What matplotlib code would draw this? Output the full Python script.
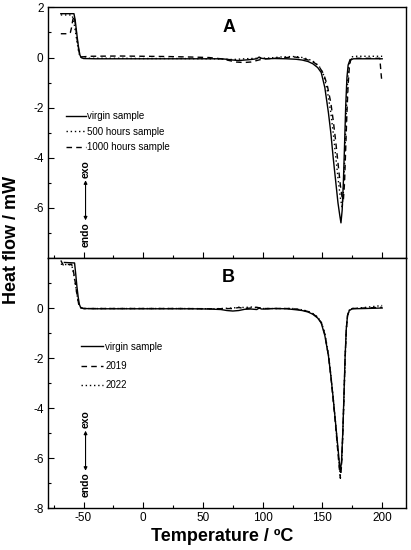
import matplotlib
matplotlib.use('Agg')
import matplotlib.pyplot as plt
from matplotlib.ticker import MultipleLocator, FixedLocator

plt.rcParams['font.family'] = ['Liberation Sans', 'DejaVu Sans']
plt.rcParams['axes.unicode_minus'] = False

# ---- panel A: aging in hours ----
t_a_virgin = [-69, -58, -57, -56, -55, -54, -53, -52, -50, -40, -20, 0, 20, 40, 55, 65, 70, 75, 80, 85,
              90, 95, 97, 99, 102, 110, 120, 128, 133, 138, 142, 146, 149, 152, 155, 157, 159, 161, 163,
              164.5, 165.5, 166.5, 167.5, 168.5, 169.5, 170.5, 171.5, 173, 176, 185, 200]
y_a_virgin = [1.75, 1.75, 1.5, 1.1, 0.7, 0.35, 0.1, 0.0, -0.04, -0.05, -0.05, -0.05, -0.05, -0.05, -0.05,
              -0.05, -0.07, -0.1, -0.12, -0.1, -0.08, -0.05, 0.02, -0.03, -0.05, -0.04, -0.05, -0.07, -0.1,
              -0.16, -0.25, -0.4, -0.6, -1.2, -2.2, -3.0, -4.0, -4.9, -5.8, -6.3, -6.6, -6.1, -5.0, -3.5,
              -1.9, -0.8, -0.3, -0.1, -0.05, -0.05, -0.05]

t_a_500 = [-69, -60, -59, -58, -57, -56, -55, -54, -53, -51, -45, -20, 0, 30, 60, 75, 85, 95, 105, 115,
           125, 130, 135, 140, 144, 148, 151, 154, 157, 159, 161, 163, 165, 166.5, 167.5, 168.5, 169.5,
           170.5, 171.5, 172.5, 174, 177, 190, 200]
y_a_500 = [1.7, 1.7, 1.6, 1.4, 1.1, 0.8, 0.5, 0.2, 0.05, -0.02, -0.03, -0.03, -0.04, -0.04, -0.05, -0.08,
           -0.05, -0.03, -0.02, 0.02, 0.04, 0.03, -0.02, -0.1, -0.2, -0.4, -0.7, -1.3, -2.2, -3.0, -3.9,
           -4.8, -5.6, -6.0, -5.4, -4.2, -2.8, -1.5, -0.6, -0.2, 0.02, 0.05, 0.05, 0.05]

t_a_1000 = [-69, -62, -61, -60, -59, -58, -57, -56, -55, -54, -53, -52, -50, -45, -20, 0, 20, 40, 55, 65,
            72, 78, 84, 90, 95, 100, 110, 120, 127, 133, 138, 143, 147, 151, 154, 157, 159, 161, 163, 165,
            166.5, 167.5, 168.5, 169.5, 170.5, 171.5, 172.5, 173.5, 175, 180, 198, 198.5, 199, 199.5]
y_a_1000 = [0.95, 0.95, 1.0, 1.2, 1.5, 1.65, 1.4, 1.0, 0.6, 0.3, 0.1, 0.03, 0.03, 0.05, 0.06, 0.05, 0.04,
            0.02, 0.0, -0.05, -0.12, -0.18, -0.2, -0.18, -0.12, -0.06, -0.03, 0.0, 0.02, -0.03, -0.1, -0.2,
            -0.35, -0.65, -1.1, -1.8, -2.5, -3.3, -4.2, -5.1, -5.6, -5.7, -5.0, -3.6, -2.2, -1.1, -0.4,
            -0.12, -0.02, -0.03, -0.03, -0.3, -0.6, -0.85]

# ---- panel B: aging in years ----
t_b_virgin = [-66, -57.5, -56.5, -55.5, -54.5, -53.5, -52.5, -50, -40, -20, 0, 20, 40, 55, 65, 70, 75, 80,
              85, 90, 95, 97, 99, 102, 110, 120, 128, 133, 138, 142, 146, 149, 152, 155, 157, 159, 161, 163,
              164, 165, 166, 167, 168, 169, 170, 171, 172.5, 175, 185, 200]
y_b_virgin = [1.82, 1.8, 1.35, 0.85, 0.45, 0.15, 0.03, -0.02, -0.03, -0.03, -0.03, -0.03, -0.03, -0.04,
              -0.06, -0.1, -0.12, -0.1, -0.05, -0.04, -0.06, 0.0, -0.04, -0.04, -0.02, -0.03, -0.07, -0.1,
              -0.16, -0.25, -0.4, -0.6, -1.1, -1.9, -2.7, -3.6, -4.6, -5.6, -6.1, -6.55, -6.1, -5.0, -3.5,
              -1.9, -0.8, -0.3, -0.1, -0.03, -0.02, 0.0]

t_b_2019 = [-69, -67, -60, -59, -58, -57, -56, -55, -54, -53, -52, -50, -30, 0, 30, 60, 75, 80, 85, 90,
            95, 100, 110, 125, 133, 138, 142, 146, 149, 152, 155, 157, 159, 161, 163, 164, 165, 166, 167,
            168, 169, 170, 171, 172.5, 175, 185, 200]
y_b_2019 = [1.9, 1.72, 1.75, 1.6, 1.35, 1.05, 0.7, 0.4, 0.15, 0.04, 0.0, -0.02, -0.02, -0.02, -0.02,
            -0.03, -0.02, 0.02, -0.02, 0.0, 0.03, -0.02, -0.02, -0.02, -0.08, -0.14, -0.23, -0.38, -0.58,
            -1.05, -1.9, -2.7, -3.7, -4.7, -5.8, -6.35, -6.8, -6.3, -5.1, -3.6, -2.0, -0.85, -0.3, -0.08,
            -0.02, 0.0, 0.03]

t_b_2022 = [-69, -60, -59, -58, -57, -56, -55, -54, -53, -52, -50, -30, 0, 30, 60, 75, 80, 85, 90, 95,
            100, 110, 125, 133, 138, 142, 146, 149, 152, 155, 157, 159, 161, 163, 164, 165, 166, 167, 168,
            169, 170, 171, 172.5, 175, 185, 200]
y_b_2022 = [1.75, 1.72, 1.55, 1.3, 1.0, 0.7, 0.4, 0.15, 0.04, 0.0, -0.02, -0.02, -0.02, -0.02, -0.03,
            0.0, 0.03, 0.02, 0.04, 0.02, -0.02, -0.02, -0.02, -0.07, -0.13, -0.22, -0.36, -0.56, -1.0,
            -1.85, -2.65, -3.6, -4.6, -5.7, -6.25, -6.7, -6.25, -5.1, -3.6, -2.0, -0.85, -0.3, -0.08,
            -0.02, 0.02, 0.1]

fig = plt.figure(figsize=(4.11, 5.5), dpi=100)
ax_a = fig.add_axes([0.116, 0.531, 0.872, 0.4555])
ax_b = fig.add_axes([0.116, 0.0758, 0.872, 0.4552])

lw = 1.0
ax_a.plot(t_a_virgin, y_a_virgin, color='black', lw=lw, ls='-', label='virgin sample')
ax_a.plot(t_a_500, y_a_500, color='black', lw=lw, ls=(0, (1, 2)), label='500 hours sample')
ax_a.plot(t_a_1000, y_a_1000, color='black', lw=lw, ls=(0, (4, 3)), label='1000 hours sample')

ax_b.plot(t_b_virgin, y_b_virgin, color='black', lw=lw, ls='-', label='virgin sample')
ax_b.plot(t_b_2019, y_b_2019, color='black', lw=lw, ls=(0, (4, 3)), label='2019')
ax_b.plot(t_b_2022, y_b_2022, color='black', lw=lw, ls=(0, (1, 2)), label='2022')

for ax in (ax_a, ax_b):
    ax.set_xlim(-80, 220)
    ax.set_ylim(-8, 2)
    ax.xaxis.set_major_locator(FixedLocator([-50, 0, 50, 100, 150, 200]))
    ax.xaxis.set_minor_locator(FixedLocator([-75, -25, 25, 75, 125, 175]))
    ax.yaxis.set_minor_locator(FixedLocator([1, -1, -3, -5, -7]))
    ax.tick_params(which='both', direction='in', top=False, right=False, labelsize=8.5, width=0.8)
    ax.tick_params(which='major', length=4, pad=3)
    ax.tick_params(which='minor', length=2.5)
    for sp in ax.spines.values():
        sp.set_linewidth(1.0)

ax_a.yaxis.set_major_locator(FixedLocator([2, 0, -2, -4, -6]))
ax_a.tick_params(axis='x', labelbottom=False)
ax_b.yaxis.set_major_locator(FixedLocator([0, -2, -4, -6, -8]))

leg_a = ax_a.legend(loc='upper left', bbox_to_anchor=(0.05, 0.585), frameon=False, fontsize=7,
                    handlelength=2.1, handletextpad=0.15, labelspacing=0.55, borderpad=0, borderaxespad=0)
leg_b = ax_b.legend(loc='upper left', bbox_to_anchor=(0.093, 0.665), frameon=False, fontsize=7,
                    handlelength=2.3, handletextpad=0.2, labelspacing=0.95, borderpad=0, borderaxespad=0)

ax_a.text(72, 1.2, 'A', fontsize=13, fontweight='bold', ha='center', va='center')
ax_b.text(71, 1.2, 'B', fontsize=13, fontweight='bold', ha='center', va='center')

# endo / exo arrows
for ax in (ax_a, ax_b):
    ax.annotate('', xy=(-48.3, -4.9), xytext=(-48.3, -6.5),
                arrowprops=dict(arrowstyle='<|-|>', color='black', lw=0.8, mutation_scale=5,
                                shrinkA=0, shrinkB=0))
    ax.text(-48.3, -4.45, 'exo', rotation=90, fontsize=7.5, fontweight='bold', ha='center', va='center')
    ax.text(-48.3, -7.05, 'endo', rotation=90, fontsize=7.5, fontweight='bold', ha='center', va='center')

fig.text(0.027, 0.563, 'Heat flow / mW', rotation=90, fontsize=13, fontweight='bold',
         ha='center', va='center')
fig.text(0.541, 0.024, 'Temperature / ºC', fontsize=13, fontweight='bold', ha='center', va='center')

fig.savefig('out.png', dpi=100)
